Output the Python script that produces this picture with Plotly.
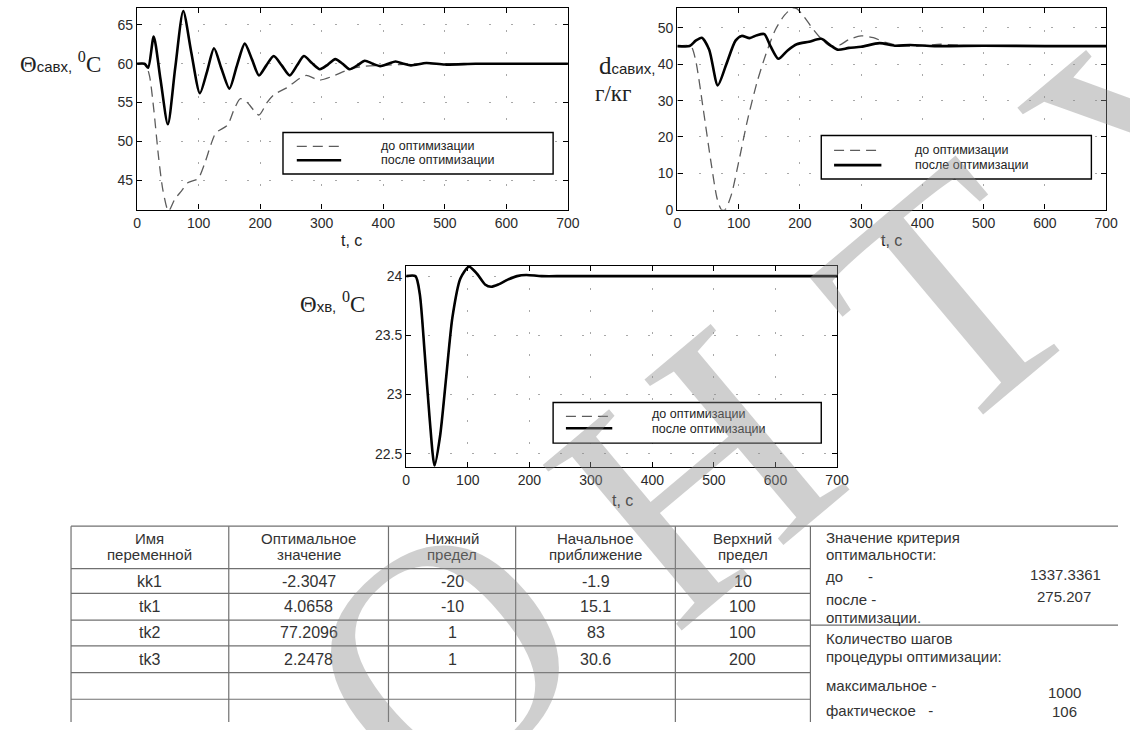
import plotly.graph_objects as go

W, H = 1130, 730


def fx(px):
    return px / W


def fy(py):
    return 1 - py / H


# ---------------- data ----------------
# Θсавх, supply-air temperature (°C)
t_sa_before = [0, 13, 20, 27, 35, 42, 51, 61, 72, 83, 99, 110, 120, 128, 147, 158, 168, 179,
               198, 211, 222, 243, 264, 275, 296, 318, 345, 371, 400, 450, 500, 600, 700]
sa_before = [60, 60, 58.5, 54.2, 47.9, 43.7, 41.0, 42.5, 43.6, 44.7, 45.2, 47.2, 49.6, 51.1,
             52.1, 54.2, 55.5, 55.0, 53.4, 55.0, 56.0, 56.9, 58.1, 58.5, 57.9, 58.4, 59.3, 59.7,
             59.8, 60, 60, 60, 60]
t_sa_after = [0, 12, 18, 27, 38, 50, 62, 75, 88, 102, 114, 125, 137, 150, 162, 175, 187, 198,
              210, 222, 235, 248, 260, 271, 284, 297, 310, 322, 334, 345, 358, 370, 383, 395,
              408, 420, 433, 445, 470, 500, 550, 600, 650, 700]
sa_after = [60, 60, 59.5, 63.5, 58.0, 52.2, 59.5, 66.8, 61.5, 56.2, 59.1, 62.0, 59.4, 56.8,
            59.7, 62.6, 60.5, 58.5, 59.8, 61.0, 59.8, 58.5, 59.8, 61.0, 60.1, 59.3, 59.9, 60.6,
            60.0, 59.3, 59.8, 60.4, 60.0, 59.7, 60.0, 60.3, 60.0, 59.8, 60.1, 59.9, 60, 60, 60, 60]

# dсавих, supply-air moisture content (g/kg)
t_d_before = [0, 22, 30, 42, 55, 65, 72, 78, 88, 100, 115, 130, 145, 160, 175, 188, 195, 205,
              220, 235, 250, 265, 280, 300, 320, 340, 360, 390, 430, 470, 520, 700]
d_before = [45, 45, 41, 28, 13, 3, 0, 0, 4, 13, 25, 35, 43, 49.5, 53.5, 55.5, 55.3, 53.5,
            50, 47, 45, 45.3, 46.8, 47.8, 47.3, 46, 45.2, 45, 45.5, 45.1, 45, 45]
t_d_after = [0, 20, 30, 40, 52, 66, 80, 95, 105, 118, 130, 142, 152, 165, 180, 195, 215, 235,
             250, 262, 280, 300, 330, 355, 380, 420, 500, 600, 700]
d_after = [45, 45, 46.5, 47.3, 44, 34.2, 40, 46.5, 47.8, 47.2, 48, 48.3, 45, 41.5, 43.8, 45.5,
           46.2, 47, 45.2, 44, 44.5, 44.8, 45.8, 45.1, 45.3, 45, 45.1, 45, 45]

# Θхв, cold-water temperature (°C)
t_w = [0, 15, 22, 30, 38, 46, 55, 65, 75, 88, 102, 115, 128, 138, 150, 165, 180, 195, 220,
       260, 700]
w_after = [24, 24, 23.85, 23.35, 22.8, 22.4, 22.65, 23.15, 23.65, 23.98, 24.08, 24.02, 23.93,
           23.91, 23.93, 23.97, 24.0, 24.01, 24.0, 24.0, 24.0]
w_before = list(w_after)

x_ticks = [0, 100, 200, 300, 400, 500, 600, 700]
sa_ticks = [45, 50, 55, 60, 65]
d_ticks = [0, 10, 20, 30, 40, 50]
w_ticks = [22.5, 23, 23.5, 24]
w_tick_text = ["22.5", "23", "23.5", "24"]

legend_names = ["до оптимизации", "после оптимизации"]

# optimisation table
tbl_header = [("Имя", "переменной"), ("Оптимальное", "значение"), ("Нижний", "предел"),
              ("Начальное", "приближение"), ("Верхний", "предел")]
var_names = ["kk1", "tk1", "tk2", "tk3"]
opt_values = ["-2.3047", "4.0658", "77.2096", "2.2478"]
lower_limits = ["-20", "-10", "1", "1"]
initial_guess = ["-1.9", "15.1", "83", "30.6"]
upper_limits = ["10", "100", "100", "200"]

criterion_before = "1337.3361"
criterion_after = "275.207"
steps_max = "1000"
steps_actual = "106"

# ---------------- figure ----------------
fig = go.Figure()

DASH = dict(color="#5c5c5c", width=1.3, dash="10px,6px", shape="spline", smoothing=0.7)
SOLID = dict(color="black", width=2.6, shape="spline", smoothing=0.7)

series = [
    (t_sa_before, sa_before, t_sa_after, sa_after, "x", "y"),
    (t_d_before, d_before, t_d_after, d_after, "x2", "y2"),
    (t_w, w_before, t_w, w_after, "x3", "y3"),
]
for tb, yb, ta, ya, xa, ya_ref in series:
    fig.add_trace(go.Scatter(x=tb, y=yb, xaxis=xa, yaxis=ya_ref, mode="lines",
                             line=DASH, name=legend_names[0], showlegend=False))
    fig.add_trace(go.Scatter(x=ta, y=ya, xaxis=xa, yaxis=ya_ref, mode="lines",
                             line=SOLID, name=legend_names[1], showlegend=False))

TICKFONT = dict(family="Liberation Sans, Arial", size=14, color="#2a2a2a")


def axis(domain, rng, tickvals, anchor, ticktext=None):
    d = dict(domain=domain, range=rng, tickvals=tickvals, anchor=anchor,
             showline=True, linecolor="black", linewidth=1.4, mirror="ticks",
             ticks="inside", ticklen=5, tickcolor="black", tickwidth=1,
             showgrid=True, gridcolor="#a8a8a8", gridwidth=1, griddash="2px,20px",
             zeroline=False, tickfont=TICKFONT, fixedrange=True)
    if ticktext is not None:
        d["ticktext"] = ticktext
    return d


fig.update_layout(
    width=W, height=H,
    margin=dict(l=0, r=0, t=0, b=0),
    paper_bgcolor="white", plot_bgcolor="white",
    showlegend=False,
    xaxis=axis([fx(135), fx(572)], [0, 700], x_ticks, "y"),
    yaxis=axis([fy(212), fy(8)], [41.2, 67.2], sa_ticks, "x"),
    xaxis2=axis([fx(683), fx(1118)], [0, 700], x_ticks, "y2"),
    yaxis2=axis([fy(212), fy(8)], [0, 55.5], d_ticks, "x2"),
    xaxis3=axis([fx(408), fx(845)], [0, 700], x_ticks, "y3"),
    yaxis3=axis([fy(472), fy(269)], [22.39, 24.085], w_ticks, "x3", w_tick_text),
)

shapes = []
annotations = []


def hline(x0, x1, y, color="#707070", width=1.2):
    shapes.append(dict(type="line", xref="paper", yref="paper", x0=fx(x0), x1=fx(x1),
                       y0=fy(y), y1=fy(y), line=dict(color=color, width=width)))


def vline(x, y0, y1, color="#707070", width=1.2):
    shapes.append(dict(type="line", xref="paper", yref="paper", x0=fx(x), x1=fx(x),
                       y0=fy(y0), y1=fy(y1), line=dict(color=color, width=width)))


def text(x, y, s, size=16, family="Liberation Sans, Arial", color="#333",
         xanchor="center", **kw):
    annotations.append(dict(xref="paper", yref="paper", x=fx(x), y=fy(y), text=s,
                            showarrow=False, xanchor=xanchor, yanchor="middle",
                            font=dict(family=family, size=size, color=color), **kw))


# legends
def legend_box(x0, y0, x1, y1, sx0, sx1, ya, yb, tx, tya, tyb):
    shapes.append(dict(type="rect", xref="paper", yref="paper", x0=fx(x0), x1=fx(x1),
                       y0=fy(y1), y1=fy(y0), line=dict(color="black", width=1.4),
                       fillcolor="white", layer="above"))
    shapes.append(dict(type="line", xref="paper", yref="paper", x0=fx(sx0), x1=fx(sx1),
                       y0=fy(ya), y1=fy(ya), layer="above",
                       line=dict(color="#5c5c5c", width=1.3, dash="10px,6px")))
    shapes.append(dict(type="line", xref="paper", yref="paper", x0=fx(sx0), x1=fx(sx1),
                       y0=fy(yb), y1=fy(yb), layer="above",
                       line=dict(color="black", width=2.6)))
    text(tx, tya, legend_names[0], size=12.5, color="#222", xanchor="left")
    text(tx, tyb, legend_names[1], size=12.5, color="#222", xanchor="left")


legend_box(283, 134, 557, 176, 297, 342, 148, 162, 380, 148, 162)
legend_box(829, 137, 1103, 181, 842, 890, 152, 167, 922, 152, 167)
legend_box(557, 407, 829, 448, 570, 617, 421, 433, 655, 419, 434)

# axis titles
text(352, 243, "t, c", size=16, color="#222")
text(900, 243, "t, c", size=16, color="#222")
text(627, 506, "t, c", size=16, color="#222")

SERIF = "Liberation Serif, Times New Roman"
SMALL = "<span style='font-family:Liberation Sans, Arial;font-size:15px'>"
text(100, 63, "Θ" + SMALL + "савх,</span> <sup>0</sup>C", size=23, family=SERIF,
     color="#222", xanchor="right")
text(662, 66, "d" + SMALL + "савих,</span>", size=25, family=SERIF, color="#222",
     xanchor="right")
text(597, 95, "г/кг", size=23, family=SERIF, color="#222", xanchor="left")
text(368, 306, "Θ" + SMALL + "хв,</span> <sup>0</sup>C", size=23, family=SERIF,
     color="#222", xanchor="right")

# table grid
col_x = [68, 228, 390, 519, 681, 818]
row_y = [532, 575, 600, 627, 653, 680, 707]
for y in row_y:
    hline(col_x[0], col_x[-1], y)
hline(col_x[-1], W, row_y[0])
hline(col_x[-1], W, 632)
for x in col_x:
    vline(x, row_y[0], H)

centers = [(col_x[i] + col_x[i + 1]) / 2 for i in range(5)]
for c, (h1, h2) in zip(centers, tbl_header):
    text(c, 544, h1, size=15)
    text(c, 561, h2, size=15)
columns = [var_names, opt_values, lower_limits, initial_guess, upper_limits]
for c, col in zip(centers, columns):
    for r, v in enumerate(col):
        text(c, (row_y[r + 1] + row_y[r + 2]) / 2, v, size=16)

# criterion / step-count panel
text(832, 543, "Значение критерия", size=15, xanchor="left")
text(832, 561, "оптимальности:", size=15, xanchor="left")
text(832, 583, "до      -", size=15, xanchor="left")
text(1115, 581, criterion_before, size=15, xanchor="right")
text(832, 606, "после -", size=15, xanchor="left")
text(1105, 603, criterion_after, size=15, xanchor="right")
text(832, 624, "оптимизации.", size=15, xanchor="left")
text(832, 646, "Количество шагов", size=15, xanchor="left")
text(832, 664, "процедуры оптимизации:", size=15, xanchor="left")
text(832, 693, "максимальное -", size=15, xanchor="left")
text(1076, 700, steps_max, size=15)
text(832, 718, "фактическое   -", size=15, xanchor="left")
text(1076, 719, steps_actual, size=15)

# watermark
for ch, (cx, cy) in zip("ОНТУ", [(445, 665), (700, 480), (960, 300), (1180, 120)]):
    text(cx, cy, ch, size=330, family=SERIF, color="rgba(140,140,140,0.42)", textangle=-40)

fig.update_layout(shapes=shapes, annotations=annotations)
fig.write_html("out.html")
